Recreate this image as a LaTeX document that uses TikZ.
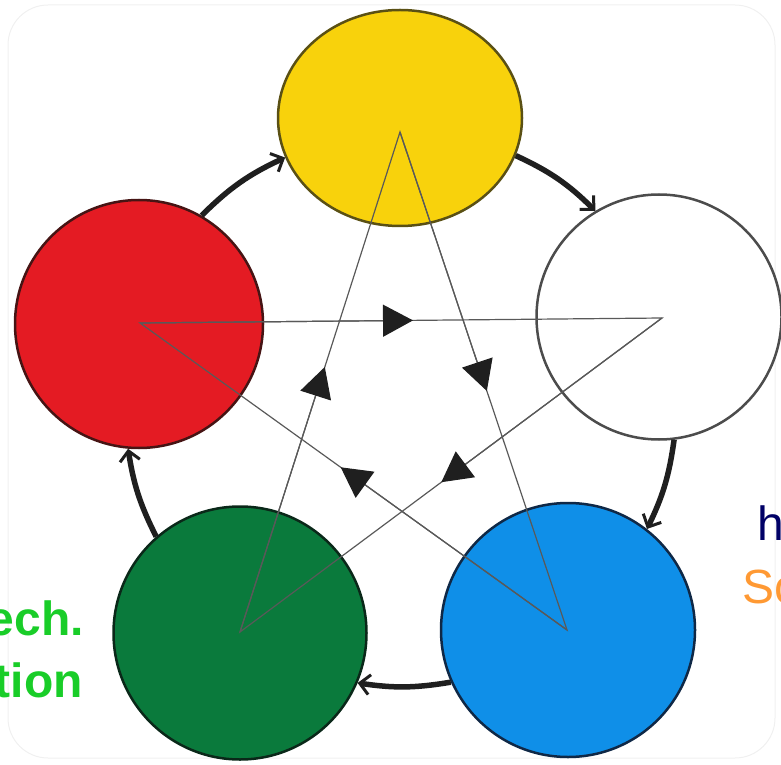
\documentclass[tikz,border=0pt]{standalone}
\usepackage{fontspec}
\setmainfont{Liberation Sans}
\usetikzlibrary{arrows.meta,calc,shapes.geometric}
\definecolor{cyellow}{RGB}{248,210,12}
\definecolor{yedge}{RGB}{90,80,20}
\definecolor{cred}{RGB}{228,27,35}
\definecolor{redge}{RGB}{70,20,20}
\definecolor{cgreen}{RGB}{10,122,60}
\definecolor{gedge}{RGB}{10,40,25}
\definecolor{cblue}{RGB}{15,143,232}
\definecolor{bedge}{RGB}{15,40,70}
\definecolor{tgreen}{RGB}{25,205,40}
\definecolor{tnavy}{RGB}{0,0,102}
\definecolor{torange}{RGB}{255,153,51}
\begin{document}
\begin{tikzpicture}[x=1pt,y=1pt,
  ring/.style={circle, inner sep=0pt, line width=2.5pt},
  flow/.style={line width=5.5pt, draw=black!88, -{Straight Barb[length=10pt,width=20pt,line width=3pt]}},
  starline/.style={line width=1.2pt, draw=black!65},
  starhead/.style={line width=1.2pt, draw=black!65, -{Triangle[length=30pt,width=32pt,color=black!88]}},
  lbl/.style={inner sep=0pt}
]
\useasboundingbox (0,0) rectangle (781,764);
\draw[black!6, line width=1pt, rounded corners=40pt] (8,6) rectangle (775,759);

% circles
\node[ring, ellipse, minimum width=244pt, minimum height=216pt, fill=cyellow, draw=yedge] (Y) at (400,646) {};
\node[ring, minimum size=248pt, fill=cred, draw=redge] (R) at (139,440) {};
\node[ring, minimum size=245pt, fill=white, draw=black!70] (W) at (659,447) {};
\node[ring, minimum size=253pt, fill=cgreen, draw=gedge] (G) at (240,131) {};
\node[ring, minimum size=254pt, fill=cblue, draw=bedge] (B) at (568,134) {};

% star vertices
\coordinate (sR) at (140,441);
\coordinate (sW) at (662,446);
\coordinate (sY) at (400,632);
\coordinate (sG) at (240,132);
\coordinate (sB) at (567,134);

\draw[starline] (sR) -- (sW) -- (sG) -- (sY) -- (sB) -- cycle;
\draw[starhead] (sR) -- ($(sR)!0.523!(sW)$);
\draw[starhead] (sW) -- ($(sW)!0.523!(sG)$);
\draw[starhead] (sG) -- ($(sG)!0.53!(sY)$);
\draw[starhead] (sY) -- ($(sY)!0.52!(sB)$);
\draw[starhead] (sB) -- ($(sB)!0.53!(sR)$);

% outer cycle
\draw[flow] (R.60) to[bend left=10] (Y.199);
\draw[flow] (Y.-18) to[bend left=10] (W.121);
\draw[flow] (W.-83) to[bend left=9] (B.52);
\draw[flow] (B.204) to[bend left=9] (G.-23);
\draw[flow] (G.131) to[bend left=9] (R.265);

% clipped side texts
\node[lbl, font=\fontsize{48}{56}\selectfont\bfseries, text=tgreen, anchor=base east] (t1) at (84,129) {ech.};
\node[lbl, font=\fontsize{48}{56}\selectfont\bfseries, text=tgreen, anchor=base east] (t2) at (83,67) {tion};
\node[lbl, font=\fontsize{48}{56}\selectfont, text=tnavy, anchor=base west] (t3) at (757,224) {h};
\node[lbl, font=\fontsize{48}{56}\selectfont, text=torange, anchor=base west] (t4) at (742,161) {Sc};
\end{tikzpicture}
\end{document}
